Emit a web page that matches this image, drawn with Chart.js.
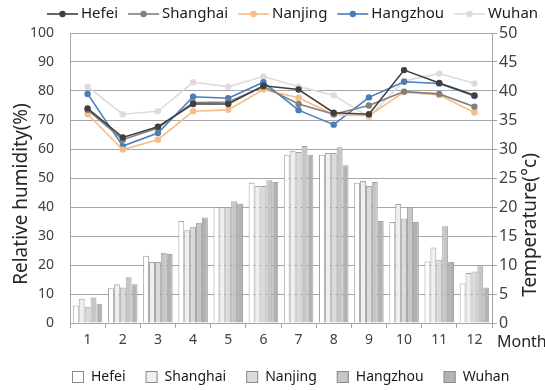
<!DOCTYPE html>
<html>
<head>
<meta charset="utf-8">
<script src="https://cdn.jsdelivr.net/npm/chart.js@4"></script>
<style>
  html, body { margin: 0; padding: 0; background: #fff; }
  canvas { display: block; }
</style>
</head>
<body>
<canvas id="chart" width="545" height="390"></canvas>
<script>
const months = ['1', '2', '3', '4', '5', '6', '7', '8', '9', '10', '11', '12'];
const cities = ['Hefei', 'Shanghai', 'Nanjing', 'Hangzhou', 'Wuhan'];

// relative humidity (%), left axis
const humHefei    = [74, 64, 67.7, 75.5, 75.5, 81.8, 80.5, 72.5, 72, 87.2, 82.8, 78.5];
const humShanghai = [73.5, 63.2, 67.2, 76, 76.2, 81.5, 75.5, 72, 75, 79.8, 79, 74.6];
const humNanjing  = [72, 59.8, 63.2, 73, 73.5, 80.5, 77.7, 71.8, 71.5, 79.6, 78.6, 72.6];
const humHangzhou = [79, 61, 65.5, 78, 77.5, 83, 73.4, 68.4, 77.8, 83.2, 82.6, 78.3];
const humWuhan    = [81.5, 72, 73, 83, 81.5, 85, 81.5, 78.5, 71, 83.5, 86, 82.6];

// temperature (°C), right axis
const tempHefei    = [3, 6, 11.6, 17.6, 20, 24.2, 29, 29, 24.2, 17.4, 10.6, 6.8];
const tempShanghai = [4.2, 6.7, 10.5, 16, 20, 23.6, 29.7, 29.3, 24.5, 20.5, 13, 8.6];
const tempNanjing  = [2.8, 6.1, 10.5, 16.6, 20, 23.6, 29.5, 29.3, 23.6, 18, 10.9, 8.9];
const tempHangzhou = [4.4, 7.9, 12.1, 17.3, 21, 24.6, 30.5, 30.3, 24.3, 20, 16.7, 9.9];
const tempWuhan    = [3.3, 6.7, 11.9, 18.2, 20.6, 24.3, 29, 27.2, 17.6, 17.4, 10.5, 6.1];

const humTicks = [0, 10, 20, 30, 40, 50, 60, 70, 80, 90, 100];
const tempTicks = [0, 5, 10, 15, 20, 25, 30, 35, 40, 45, 50];

const FONT = '"Noto Sans", "Open Sans", sans-serif';
const lineColors = ['#3f3f3f', '#808080', '#f6bd86', '#4a7ebb', '#dcdcdc'];
const barColors = ['#ffffff', '#efefef', '#dadada', '#c6c6c6', '#b3b3b3'];
const humData = [humHefei, humShanghai, humNanjing, humHangzhou, humWuhan];
const tempData = [tempHefei, tempShanghai, tempNanjing, tempHangzhou, tempWuhan];

const datasets = [];
cities.forEach((c, i) => {
  datasets.push({
    type: 'line', label: c, data: humData[i], yAxisID: 'y', order: 0,
    borderColor: lineColors[i], backgroundColor: lineColors[i],
    borderWidth: 1.6, pointRadius: 3.2, pointBorderWidth: 0,
    pointBackgroundColor: lineColors[i], tension: 0
  });
});
cities.forEach((c, i) => {
  datasets.push({
    type: 'bar', label: c, data: tempData[i], yAxisID: 'y1', order: 1,
    backgroundColor: barColors[i], borderColor: '#a3a3a3', borderWidth: 1,
    categoryPercentage: 0.84, barPercentage: 1
  });
});

// legends, axis titles and the "Month" label
const extras = {
  id: 'extras',
  afterDraw(chart) {
    const ctx = chart.ctx;
    ctx.save();
    ctx.fillStyle = '#1a1a1a';
    ctx.textBaseline = 'middle';

    // top legend (lines)
    ctx.font = '15px ' + FONT;
    let x = 47;
    const ty = 14;
    cities.forEach((c, i) => {
      ctx.strokeStyle = lineColors[i];
      ctx.lineWidth = 1.6;
      ctx.beginPath(); ctx.moveTo(x, ty); ctx.lineTo(x + 31, ty); ctx.stroke();
      ctx.fillStyle = lineColors[i];
      ctx.beginPath(); ctx.arc(x + 15.5, ty, 3.2, 0, Math.PI * 2); ctx.fill();
      ctx.fillStyle = '#1a1a1a';
      ctx.textAlign = 'left';
      ctx.fillText(c, x + 34, ty);
      x += 34 + ctx.measureText(c).width + 10;
    });

    // bottom legend (bars)
    ctx.font = '14px ' + FONT;
    x = 72;
    const by = 377;
    cities.forEach((c, i) => {
      ctx.fillStyle = barColors[i];
      ctx.fillRect(x, by - 6, 12, 12);
      ctx.strokeStyle = '#8c8c8c';
      ctx.lineWidth = 1;
      ctx.strokeRect(x + 0.5, by - 5.5, 11, 11);
      ctx.fillStyle = '#1a1a1a';
      ctx.fillText(c, x + 19, by);
      x += 19 + ctx.measureText(c).width + 20;
    });

    // axis titles
    ctx.font = '19px ' + FONT;
    ctx.fillStyle = '#262626';
    ctx.textAlign = 'center';
    ctx.save();
    ctx.translate(22, 194);
    ctx.rotate(-Math.PI / 2);
    ctx.fillText('Relative humidity(%)', 0, 0);
    ctx.restore();
    ctx.save();
    ctx.translate(531, 225);
    ctx.rotate(-Math.PI / 2);
    ctx.fillText('Temperature(°c)', 0, 0);
    ctx.restore();

    ctx.font = '16px ' + FONT;
    ctx.textAlign = 'left';
    ctx.fillText('Month', 497, 342);
    ctx.restore();
  }
};

new Chart(document.getElementById('chart'), {
  data: { labels: months, datasets: datasets },
  options: {
    responsive: false,
    animation: false,
    layout: { padding: { top: 33, left: 0, right: 0, bottom: 0 } },
    plugins: { legend: { display: false }, tooltip: { enabled: false } },
    scales: {
      x: {
        offset: true,
        grid: { drawOnChartArea: false, drawTicks: true, tickLength: 5, color: '#a6a6a6', offset: true },
        border: { display: true, color: '#a6a6a6' },
        ticks: { color: '#404040', font: { family: FONT, size: 14 }, padding: 4, maxRotation: 0 },
        afterFit(axis) { axis.height = 67; }
      },
      y: {
        position: 'left', min: 0, max: 100,
        afterBuildTicks(axis) { axis.ticks = humTicks.map(v => ({ value: v })); },
        grid: { color: '#a6a6a6', drawTicks: false },
        border: { display: true, color: '#a6a6a6' },
        ticks: { color: '#404040', font: { family: FONT, size: 14 }, padding: 16 },
        afterFit(axis) { axis.width = 70; }
      },
      y1: {
        position: 'right', min: 0, max: 50,
        afterBuildTicks(axis) { axis.ticks = tempTicks.map(v => ({ value: v })); },
        grid: { drawOnChartArea: false, drawTicks: true, tickLength: 5, color: '#a6a6a6' },
        border: { display: true, color: '#a6a6a6' },
        ticks: { color: '#404040', font: { family: FONT, size: 16 }, padding: 2 },
        afterFit(axis) { axis.width = 53; }
      }
    }
  },
  plugins: [extras]
});
</script>
</body>
</html>
